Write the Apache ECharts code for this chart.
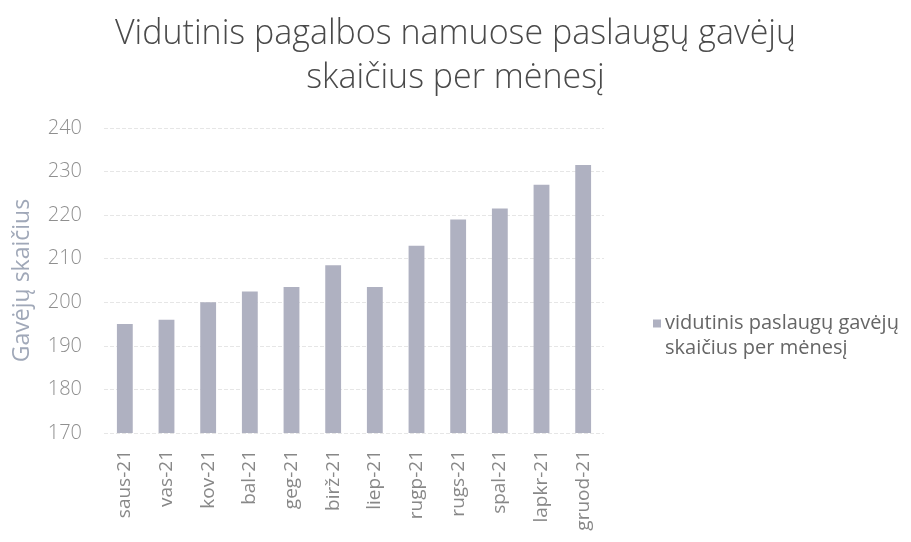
<!DOCTYPE html>
<html>
<head>
<meta charset="utf-8">
<script src="https://cdn.jsdelivr.net/npm/echarts@6/dist/echarts.min.js"></script>
<style>html,body{margin:0;padding:0;background:#fff}#c{width:911px;height:542px}</style>
</head>
<body>
<div id="c"></div>
<script>
const categories = ["saus-21","vas-21","kov-21","bal-21","geg-21","birž-21","liep-21","rugp-21","rugs-21","spal-21","lapkr-21","gruod-21"];
const values = [195, 196, 200, 202.5, 203.5, 208.5, 203.5, 213, 219, 221.5, 227, 231.5];
const seriesName = "vidutinis paslaugų gavėjų skaičius per mėnesį";
const legendLines = ["vidutinis paslaugų gavėjų", "skaičius per mėnesį"];
const titleText = "Vidutinis pagalbos namuose paslaugų gavėjų\nskaičius per mėnesį";
const yName = "Gavėjų skaičius";
const barColor = '#afb1c1';

const chart = echarts.init(document.getElementById('c'));
chart.setOption({
  backgroundColor: '#fff',
  animation: false,
  title: {
    text: titleText,
    left: 'center',
    top: 7,
    textStyle: { fontFamily: 'Open Sans', fontWeight: 300, fontSize: 34, color: '#4a4a4a', lineHeight: 44 }
  },
  legend: {
    orient: 'vertical',
    left: 643,
    top: 306,
    icon: 'none',
    itemWidth: 0,
    itemHeight: 0,
    formatter: () => '{i|}{g|}{t|' + legendLines[0] + '}\n{sp|}{t|' + legendLines[1] + '}',
    textStyle: {
      fontFamily: 'Open Sans', fontSize: 20, color: '#666', lineHeight: 25,
      rich: {
        i: { width: 8, height: 8, backgroundColor: barColor, verticalAlign: 'middle' },
        g: { width: 4 },
        sp: { width: 12 },
        t: { fontFamily: 'Open Sans', fontSize: 20, color: '#666', lineHeight: 25, verticalAlign: 'middle' }
      }
    }
  },
  grid: { left: 104, right: 307, top: 128, bottom: 109 },
  xAxis: {
    type: 'category',
    data: categories,
    axisTick: { show: false },
    axisLine: { show: false },
    axisLabel: { rotate: 90, fontFamily: 'Open Sans', fontSize: 19, color: '#888', margin: 17 }
  },
  yAxis: {
    type: 'value',
    min: 170,
    max: 240,
    interval: 10,
    name: yName,
    nameLocation: 'middle',
    nameGap: 70,
    nameTextStyle: { fontFamily: 'Open Sans', fontSize: 23, color: '#a0a8b8' },
    axisLabel: { fontFamily: 'Open Sans', fontSize: 20, fontWeight: 300, color: '#8f8f8f', margin: 22 },
    axisLine: { show: false },
    axisTick: { show: false },
    splitLine: { lineStyle: { color: '#e6e6e6', type: 'dashed' } }
  },
  series: [{
    name: seriesName,
    type: 'bar',
    data: values,
    barWidth: '38%',
    itemStyle: { color: barColor }
  }]
});
</script>
</body>
</html>
